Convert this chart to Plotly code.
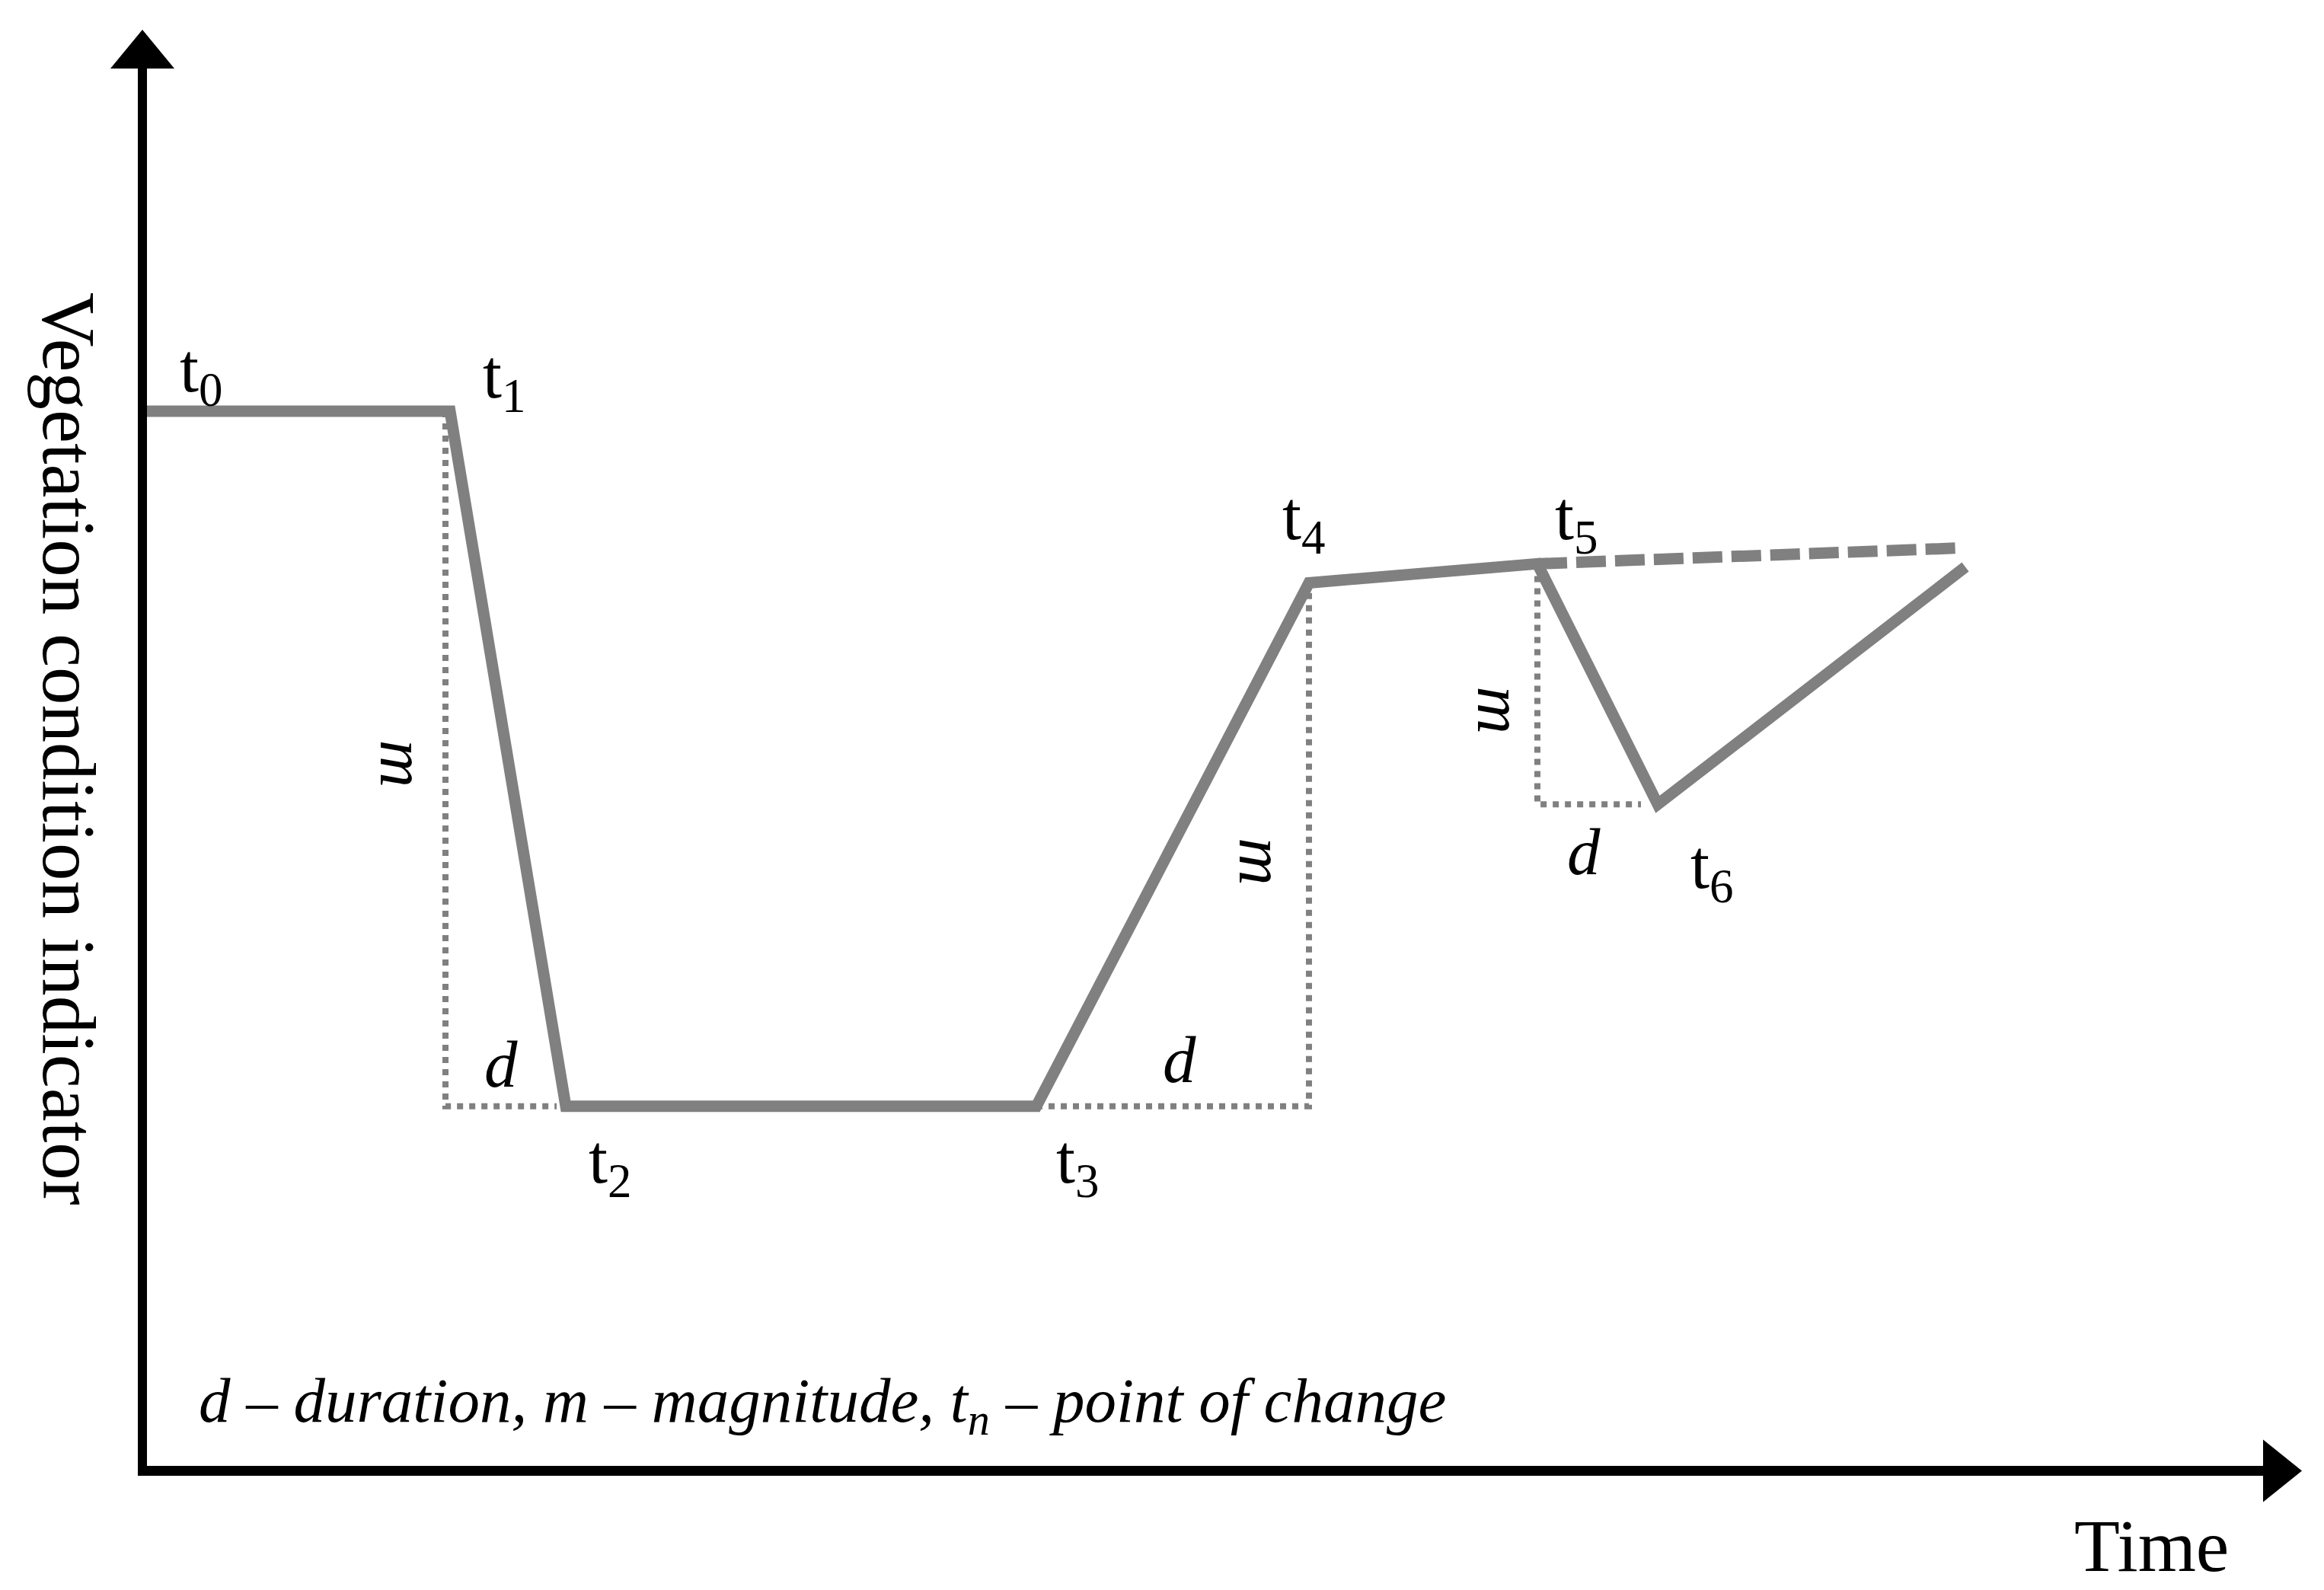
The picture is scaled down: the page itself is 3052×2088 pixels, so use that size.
import plotly.graph_objects as go

# ---- schematic data: vegetation condition indicator through time ----
time = [0.0, 20.2, 27.8, 58.7, 76.6, 91.6, 99.5, 119.7]
condition = [100.0, 100.0, 34.4, 34.4, 83.8, 85.6, 62.9, 85.3]
point_labels = ["t<sub>0</sub>", "t<sub>1</sub>", "t<sub>2</sub>", "t<sub>3</sub>",
                "t<sub>4</sub>", "t<sub>5</sub>", "t<sub>6</sub>"]

# undisturbed trajectory continuing after t5 (dashed)
trend_time = [91.6, 119.5]
trend_condition = [85.6, 87.1]

# duration (d) / magnitude (m) guides (dotted)
guide1_time = [19.9, 19.9, 27.2]
guide1_condition = [100.0, 34.4, 34.4]
guide2_time = [58.7, 76.6, 76.6]
guide2_condition = [34.4, 34.4, 83.8]
guide3_time = [91.6, 91.6, 98.4]
guide3_condition = [85.6, 62.9, 62.9]

# ---- layout constants ----
W, H = 3052, 2088
PX0, PY0 = 187.0, 1931.5     # pixel position of origin
KX, KY = 20.0, 13.915        # pixels per unit
def dx(p):  # pixel offset -> time units
    return p / KX
def dy(p):  # pixel offset -> condition units
    return p / KY

x_range = [-PX0 / KX, (W - PX0) / KX]
y_range = [-(H - PY0) / KY, PY0 / KY]

GREY = "#808080"
SERIF = "Liberation Serif, Times New Roman, serif"

fig = go.Figure()

for gx, gy in [(guide1_time, guide1_condition), (guide2_time, guide2_condition),
               (guide3_time, guide3_condition)]:
    fig.add_trace(go.Scatter(x=gx, y=gy, mode="lines",
                             line=dict(color=GREY, width=8, dash="8px,8px"),
                             hoverinfo="skip"))

fig.add_trace(go.Scatter(x=trend_time, y=trend_condition, mode="lines",
                         line=dict(color=GREY, width=15, dash="39px,12px"),
                         hoverinfo="skip"))
fig.add_trace(go.Scatter(x=time, y=condition, mode="lines",
                         line=dict(color=GREY, width=15),
                         hoverinfo="skip"))

# ---- axes drawn as arrows ----
y_top_base = dy(PY0 - 90)
y_tip = dy(PY0 - 39)
x_right_base = dx(2972 - PX0)
x_tip = dx(3023 - PX0)
shapes = [
    dict(type="line", xref="x", yref="y", x0=0, x1=0, y0=-dy(0.5), y1=y_top_base + 0.2,
         line=dict(color="black", width=12)),
    dict(type="line", xref="x", yref="y", x0=-dx(6), x1=x_right_base + 0.2, y0=0, y1=0,
         line=dict(color="black", width=13)),
    dict(type="path", xref="x", yref="y",
         path=f"M {-dx(42)},{y_top_base} L {dx(42)},{y_top_base} L 0,{y_tip} Z",
         fillcolor="black", line=dict(width=0)),
    dict(type="path", xref="x", yref="y",
         path=f"M {x_right_base},{dy(41)} L {x_right_base},{-dy(41)} L {x_tip},0 Z",
         fillcolor="black", line=dict(width=0)),
]

annotations = []
label_offsets = [(77, 50), (71, 42), (58, -77), (54, -77), (-7, 81), (51, 56), (71, -86)]
for i, lab in enumerate(point_labels):
    ox, oy = label_offsets[i]
    annotations.append(dict(x=time[i], y=condition[i], text=lab, showarrow=False,
                            xshift=ox, yshift=oy, xanchor="center", yanchor="middle",
                            font=dict(family=SERIF, size=90, color="black")))

# d and m labels
ital = dict(family=SERIF, size=87, color="black")
def mid(a, b):
    return (a + b) / 2
annotations += [
    dict(x=mid(guide1_time[1], guide1_time[2]), y=guide1_condition[2], text="<i>d</i>",
         showarrow=False, xshift=0, yshift=55, font=ital),
    dict(x=mid(guide2_time[0], guide2_time[1]), y=guide2_condition[0], text="<i>d</i>",
         showarrow=False, xshift=9, yshift=61, font=ital),
    dict(x=mid(guide3_time[1], guide3_time[2]), y=guide3_condition[2], text="<i>d</i>",
         showarrow=False, xshift=-7, yshift=-62, font=ital),
    dict(x=guide1_time[0], y=mid(guide1_condition[0], guide1_condition[1]), text="<i>m</i>",
         showarrow=False, xshift=-55, yshift=-6, textangle=90, font=ital),
    dict(x=guide2_time[1], y=mid(guide2_condition[1], guide2_condition[2]), text="<i>m</i>",
         showarrow=False, xshift=-61, yshift=-22, textangle=90, font=ital),
    dict(x=guide3_time[0], y=mid(guide3_condition[0], guide3_condition[1]), text="<i>m</i>",
         showarrow=False, xshift=-48, yshift=-34, textangle=90, font=ital),
]

# axis titles and legend note
annotations += [
    dict(xref="paper", yref="paper", x=90 / W, y=1 - 983 / H, text="Vegetation condition indicator",
         textangle=90, showarrow=False, xanchor="center", yanchor="middle",
         font=dict(family=SERIF, size=99, color="black")),
    dict(xref="paper", yref="paper", x=2825 / W, y=1 - 2030 / H, text="Time",
         showarrow=False, xanchor="center", yanchor="middle",
         font=dict(family=SERIF, size=98, color="black")),
    dict(xref="paper", yref="paper", x=259 / W, y=1 - 1845 / H,
         text="<i>d – duration, m – magnitude, t<sub>n</sub> – point of change</i>",
         showarrow=False, xanchor="left", yanchor="middle",
         font=dict(family=SERIF, size=83, color="black")),
]

fig.update_layout(
    width=W, height=H, autosize=False,
    margin=dict(l=0, r=0, t=0, b=0, pad=0),
    paper_bgcolor="white", plot_bgcolor="white",
    showlegend=False,
    xaxis=dict(range=x_range, visible=False, fixedrange=True),
    yaxis=dict(range=y_range, visible=False, fixedrange=True),
    shapes=shapes, annotations=annotations,
)

fig.write_html("out.html", config={"displayModeBar": False},
               post_script="document.body.style.margin='0';document.body.style.overflow='hidden';")
